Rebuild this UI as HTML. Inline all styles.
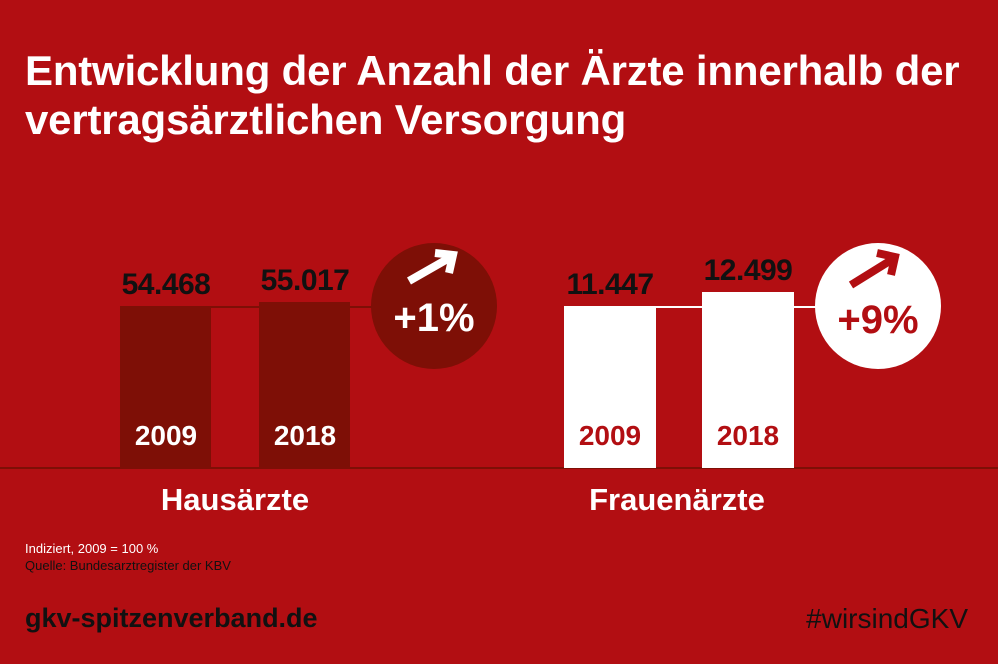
<!DOCTYPE html>
<html><head><meta charset="utf-8"><style>
body{margin:0;width:998px;height:664px;background:#b20e12;position:relative;overflow:hidden;font-family:"Liberation Sans",sans-serif}
div{position:absolute}
.t{color:#fff;font-weight:bold;font-size:42px;line-height:42px;left:25px;letter-spacing:-0.2px;white-space:nowrap;transform-origin:0 0;transform:scaleX(1.0)}
.v{font-weight:bold;font-size:30px;color:#111;width:140px;text-align:center;letter-spacing:-0.5px}
.y{font-weight:bold;font-size:28px;width:92px;text-align:center}
.c{font-weight:bold;font-size:31px;color:#fff;width:300px;text-align:center}
.circ{border-radius:50%;width:126px;height:126px}
</style></head><body>
<div class="t" style="top:50px">Entwicklung der Anzahl der Ärzte innerhalb der</div>
<div class="t" style="top:99px">vertragsärztlichen Versorgung</div>

<div style="left:0;top:467px;width:998px;height:2px;background:#7e0f06"></div>

<div style="left:200px;top:306px;width:180px;height:2px;background:#7e0f06"></div>
<div style="left:120px;top:306px;width:91px;height:162px;background:#7e0f06"></div>
<div style="left:259px;top:302px;width:91px;height:166px;background:#7e0f06"></div>
<div class="v" style="left:96px;top:268px">54.468</div>
<div class="v" style="left:235px;top:264px">55.017</div>
<div class="y" style="left:120px;top:420px;color:#fff">2009</div>
<div class="y" style="left:259px;top:420px;color:#fff">2018</div>
<div class="circ" style="left:371px;top:243px;background:#7e0f06"></div>
<svg style="position:absolute;left:371px;top:243px" width="126" height="126"><path d="M38 38 L80 14 M64 10 L82 12 L78 30" stroke="#fff" stroke-width="8" fill="none"/></svg>
<div style="left:371px;top:296px;width:126px;text-align:center;color:#fff;font-weight:bold;font-size:40px">+1%</div>
<div class="c" style="left:85px;top:482px">Hausärzte</div>

<div style="left:650px;top:306px;width:180px;height:2px;background:#fff"></div>
<div style="left:564px;top:306px;width:92px;height:162px;background:#fff"></div>
<div style="left:702px;top:292px;width:92px;height:176px;background:#fff"></div>
<div class="v" style="left:540px;top:268px">11.447</div>
<div class="v" style="left:678px;top:254px">12.499</div>
<div class="y" style="left:564px;top:420px;color:#b20e12">2009</div>
<div class="y" style="left:702px;top:420px;color:#b20e12">2018</div>
<div class="circ" style="left:815px;top:243px;background:#fff"></div>
<svg style="position:absolute;left:815px;top:243px" width="126" height="126"><path d="M36 42 L78 16 M62 10 L80 14 L76 32" stroke="#b20e12" stroke-width="8" fill="none"/></svg>
<div style="left:815px;top:298px;width:126px;text-align:center;color:#b20e12;font-weight:bold;font-size:40px">+9%</div>
<div class="c" style="left:527px;top:482px">Frauenärzte</div>

<div style="left:25px;top:541px;font-size:13px;color:#fff">Indiziert, 2009 = 100 %</div>
<div style="left:25px;top:558px;font-size:13px;color:#111">Quelle: Bundesarztregister der KBV</div>
<div style="left:25px;top:603px;font-size:27px;font-weight:bold;color:#111">gkv-spitzenverband.de</div>
<div style="right:30px;top:603px;font-size:28px;color:#111">#wirsindGKV</div>
</body></html>
